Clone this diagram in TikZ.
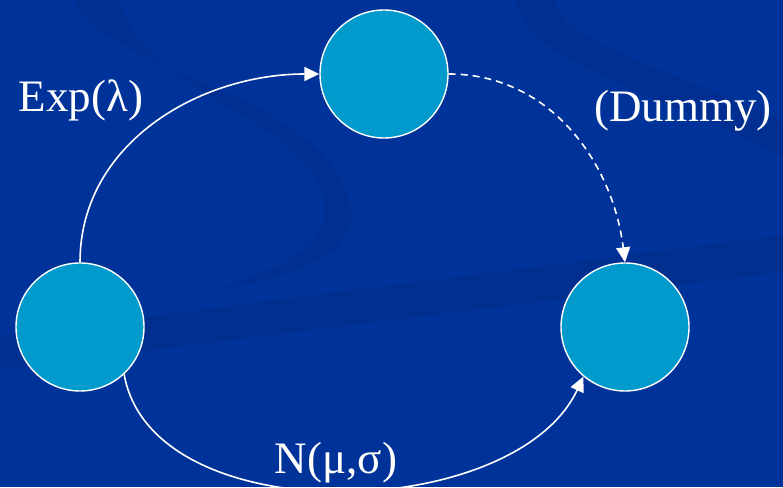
\documentclass[tikz,border=0pt]{standalone}
\usepackage{fontspec}
\setmainfont{Liberation Serif}
\usetikzlibrary{arrows.meta}
\definecolor{bgblue}{HTML}{003399}
\definecolor{swirl}{HTML}{002D8A}
\definecolor{statefill}{HTML}{009ACC}
\begin{document}
\begin{tikzpicture}[x=1pt, y=1pt,
  state/.style={circle, draw=white, line width=1.4pt, fill=statefill, minimum size=128pt, inner sep=0pt},
  arr/.style={draw=white, line width=1.6pt, -{Triangle[length=15pt, width=14pt]}},
  lab/.style={text=white, font=\fontsize{45}{50}\selectfont, anchor=base}]
% background with faint swirls
\fill[bgblue] (0,0) rectangle (783,487);
\fill[swirl, opacity=0.6] (0,150) .. controls (250,185) and (500,215) .. (783,252)
  -- (783,215) .. controls (500,180) and (250,150) .. (0,118) -- cycle;
\fill[swirl, opacity=0.5] (75,487) .. controls (95,420) and (300,400) .. (345,300)
  .. controls (370,240) and (320,215) .. (210,195) .. controls (300,225) and (340,250) .. (320,300)
  .. controls (290,370) and (140,400) .. (120,487) -- cycle;
\fill[swirl, opacity=0.5] (515,487) .. controls (530,420) and (650,400) .. (783,330)
  -- (783,365) .. controls (660,425) and (565,440) .. (555,487) -- cycle;
\useasboundingbox (0,0) rectangle (783,487);
% states
\node[state] (top) at (384,413) {};
\node[state] (left) at (80,160) {};
\node[state] (right) at (625,160) {};
% transitions
\draw[arr] (left.north) to[out=90, in=180] (top.west);
\draw[arr, dash pattern=on 7pt off 5pt] (top.east) to[out=0, in=97] (right.north);
\draw[arr] (left.-47) to[out=-80, in=-115, looseness=0.9] (right.-130);
% labels
\node[lab] (exp) at (81,375) {Exp(λ)};
\node[lab] (dummy) at (683,365) {(Dummy)};
\node[lab] (norm) at (336,14) {N(μ,σ)};
\end{tikzpicture}
\end{document}
